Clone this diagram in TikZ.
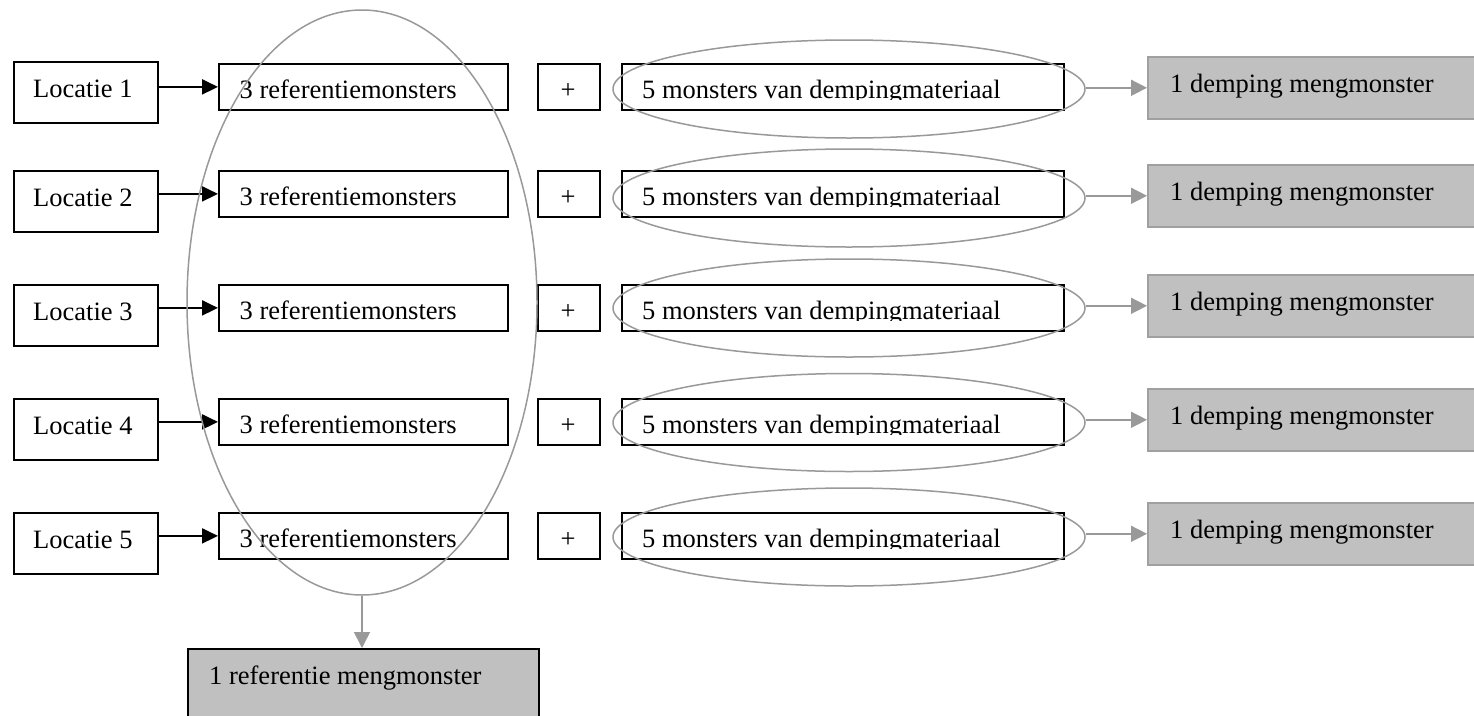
\documentclass[tikz,border=0pt]{standalone}
\usepackage{fontspec}
\setmainfont{Liberation Serif}
\usetikzlibrary{shapes.geometric,arrows.meta}
\definecolor{boxgray}{HTML}{C0C0C0}
\definecolor{edgegray}{HTML}{A0A0A0}
\definecolor{linegray}{HTML}{999999}
\tikzset{
  blackbox/.style={draw=black,line width=1.8pt,fill=white,inner sep=0pt,anchor=north west},
  graybox/.style={draw=edgegray,line width=1.6pt,fill=boxgray,inner sep=0pt,anchor=north west},
  refmengbox/.style={draw=black,line width=1.8pt,fill=boxgray,inner sep=0pt,anchor=north west},
  txt/.style={inner sep=0pt,anchor=base west,font=\fontsize{26.5}{30}\selectfont},
  ctxt/.style={inner sep=0pt,anchor=base,font=\fontsize{26.5}{30}\selectfont},
  ring/.style={ellipse,draw=linegray,line width=1.5pt,inner sep=0pt},
  blackarrow/.style={draw=black,line width=2pt,-{Triangle[length=16pt,width=15pt]}},
  grayarrow/.style={draw=linegray,line width=1.6pt,-{Triangle[length=16pt,width=16pt]},color=linegray},
}
\begin{document}
\begin{tikzpicture}[x=1pt,y=-1pt]
\useasboundingbox (0,0) rectangle (1474,715);
\fill[white] (0,0) rectangle (1474,715);
% rows: index / locatie top / ref top / demping top / ring center
\foreach \i/\lt/\rt/\dt/\ec in {1/61/63/56/89,2/170/170/164/198,3/284/284/274/308,4/398/398/388/422.5,5/512/512/502/537}{
  \node[blackbox,minimum width=144.3pt,minimum height=61pt] (loc\i) at (12.7,\lt) {};
  \node[txt] (loc\i t) at (33,\lt+36) {Locatie \i};
  \node[blackbox,minimum width=289pt,minimum height=46pt] (ref\i) at (218,\rt) {};
  \node[txt] (ref\i t) at (239.5,\rt+35) {3 referentiemonsters};
  \node[blackbox,minimum width=62pt,minimum height=46pt] (plus\i) at (537,\rt) {};
  \node[ctxt] (plus\i t) at (568,\rt+35) {+};
  \node[blackbox,minimum width=442pt,minimum height=46pt] (dmat\i) at (621,\rt) {};
  \begin{scope}
    \clip (621,\rt) rectangle (1063,\rt+36.5);
    \node[txt] (dmat\i t) at (642,\rt+35) {5 monsters van dempingmateriaal};
  \end{scope}
  \node[graybox,minimum width=335pt,minimum height=62pt] (dmeng\i) at (1147,\dt) {};
  \node[txt] (dmeng\i t) at (1170,\dt+36) {1 demping mengmonster};
  \node[ring,minimum width=472pt,minimum height=98pt] (ring\i) at (849,\ec) {};
  \draw[blackarrow] (loc\i.east |- ref\i.west) -- (ref\i.west);
  \draw[grayarrow] (ring\i.east |- dmeng\i.west) -- (dmeng\i.west);
}
\node[refmengbox,minimum width=351pt,minimum height=82pt] (rmeng) at (187,648) {};
\node[txt] (rmengt) at (209,684) {1 referentie mengmonster};
\node[ring,minimum width=350pt,minimum height=585pt] (bigring) at (362,302.5) {};
\draw[grayarrow] (bigring.south) -- (bigring.south |- rmeng.north);
\end{tikzpicture}
\end{document}
